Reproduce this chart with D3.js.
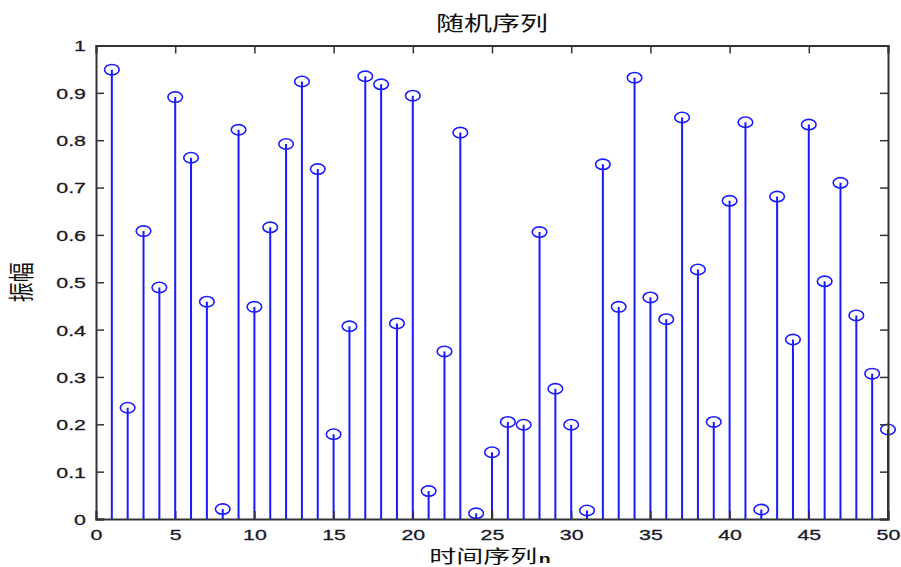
<!DOCTYPE html>
<html>
<head>
<meta charset="utf-8">
<script src="https://cdn.jsdelivr.net/npm/d3@7"></script>
<style>
  html, body { margin: 0; padding: 0; background: #fff; }
  svg { display: block; }
  .tick text { font-family: "Liberation Sans", Arial, sans-serif; font-size: 15.5px; fill: #1a1a2a; stroke: #1a1a2a; stroke-width: 0.3px; }
  .cjk { font-family: "Noto Sans CJK SC", sans-serif; fill: #111; }
</style>
</head>
<body>
<svg id="chart" width="901" height="567"></svg>
<script>
// Sample index n = 1..50
const indices = d3.range(1, 51);
// Amplitude of each sample
const amplitudes = [
  0.949, 0.235, 0.608, 0.489, 0.891, 0.763, 0.459, 0.021, 0.822, 0.448,
  0.616, 0.792, 0.924, 0.739, 0.179, 0.407, 0.935, 0.918, 0.413, 0.894,
  0.059, 0.354, 0.816, 0.012, 0.141, 0.205, 0.199, 0.606, 0.275, 0.199,
  0.018, 0.749, 0.448, 0.932, 0.468, 0.422, 0.848, 0.527, 0.205, 0.672,
  0.838, 0.020, 0.681, 0.379, 0.833, 0.502, 0.710, 0.430, 0.307, 0.189
];
const xTicks = [0, 5, 10, 15, 20, 25, 30, 35, 40, 45, 50];
const yTicks = [0, 0.1, 0.2, 0.3, 0.4, 0.5, 0.6, 0.7, 0.8, 0.9, 1];
const titleText = "随机序列";
const xLabelText = "时间序列";
const xLabelVar = "n";
const yLabelText = "振幅";

const svg = d3.select("#chart");
const margin = { left: 96, right: 13, top: 45.5, bottom: 48 };
const W = 901, H = 567;
const x = d3.scaleLinear().domain([0, 50]).range([margin.left, W - margin.right]);
const y = d3.scaleLinear().domain([0, 1]).range([H - margin.bottom, margin.top]);

const axisColor = "#333";
const tickLen = 8;
const textStretch = 1.38;   // text is drawn wider than tall

// Stems
const stemColor = "#1a1aff";
svg.append("g").selectAll("line").data(indices).join("line")
  .attr("x1", d => x(d)).attr("x2", d => x(d))
  .attr("y1", y(0)).attr("y2", (d, i) => y(amplitudes[i]))
  .attr("stroke", stemColor).attr("stroke-width", 2);

// Markers (open ellipses)
svg.append("g").selectAll("ellipse").data(indices).join("ellipse")
  .attr("cx", d => x(d)).attr("cy", (d, i) => y(amplitudes[i]))
  .attr("rx", 7.3).attr("ry", 5.2)
  .attr("fill", "none").attr("stroke", stemColor).attr("stroke-width", 1.6);

// Axes: bottom/left with labels, top/right ticks only (closed box)
const gx = svg.append("g").attr("transform", `translate(0,${y(0)})`)
  .call(d3.axisBottom(x).tickValues(xTicks).tickFormat(d3.format("d")).tickSize(-tickLen).tickPadding(10));
const gy = svg.append("g").attr("transform", `translate(${x(0)},0)`)
  .call(d3.axisLeft(y).tickValues(yTicks)
    .tickFormat(d => d === 0 || d === 1 ? d3.format("d")(d) : d3.format(".1f")(d))
    .tickSize(-tickLen).tickPadding(10));
const gxt = svg.append("g").attr("transform", `translate(0,${y(1)})`)
  .call(d3.axisTop(x).tickValues(xTicks).tickFormat("").tickSize(-tickLen));
const gyr = svg.append("g").attr("transform", `translate(${x(50)},0)`)
  .call(d3.axisRight(y).tickValues(yTicks).tickFormat("").tickSize(-tickLen));

[gx, gy, gxt, gyr].forEach(g => {
  g.select(".domain").attr("stroke", axisColor).attr("stroke-width", 2);
  g.selectAll(".tick line").attr("stroke", axisColor).attr("stroke-width", 1.5);
});

// Stretch tick labels horizontally around their anchor points
gx.selectAll(".tick text").each(function () {
  const t = d3.select(this);
  const ty = +t.attr("y");
  t.attr("y", 0).attr("dy", "0.71em").attr("transform", `translate(0,${ty}) scale(${textStretch},1)`);
});
gy.selectAll(".tick text").each(function () {
  const t = d3.select(this);
  const tx = +t.attr("x");
  t.attr("x", 0).attr("dy", "0.35em").attr("transform", `translate(${tx},0) scale(${textStretch},1)`);
});

// Title
svg.append("text").attr("class", "cjk")
  .attr("transform", `translate(${(x(0) + x(50)) / 2},31) scale(1.4,1)`)
  .attr("text-anchor", "middle")
  .style("font-size", "20px")
  .text(titleText);

// X label
const xl = svg.append("text").attr("class", "cjk")
  .attr("transform", `translate(${(x(0) + x(50)) / 2 - 2},563) scale(1.5,1)`)
  .attr("text-anchor", "middle")
  .style("font-size", "18px");
xl.append("tspan").text(xLabelText);
xl.append("tspan").attr("dx", 1)
  .style("font-family", "'Liberation Sans', Arial, sans-serif").style("font-weight", "bold").style("font-size", "13px")
  .text(xLabelVar);

// Y label
svg.append("text").attr("class", "cjk")
  .attr("transform", `translate(31,${(y(0) + y(1)) / 2}) scale(1.3,1) rotate(-90)`)
  .attr("text-anchor", "middle")
  .style("font-size", "20px")
  .text(yLabelText);
</script>
</body>
</html>
